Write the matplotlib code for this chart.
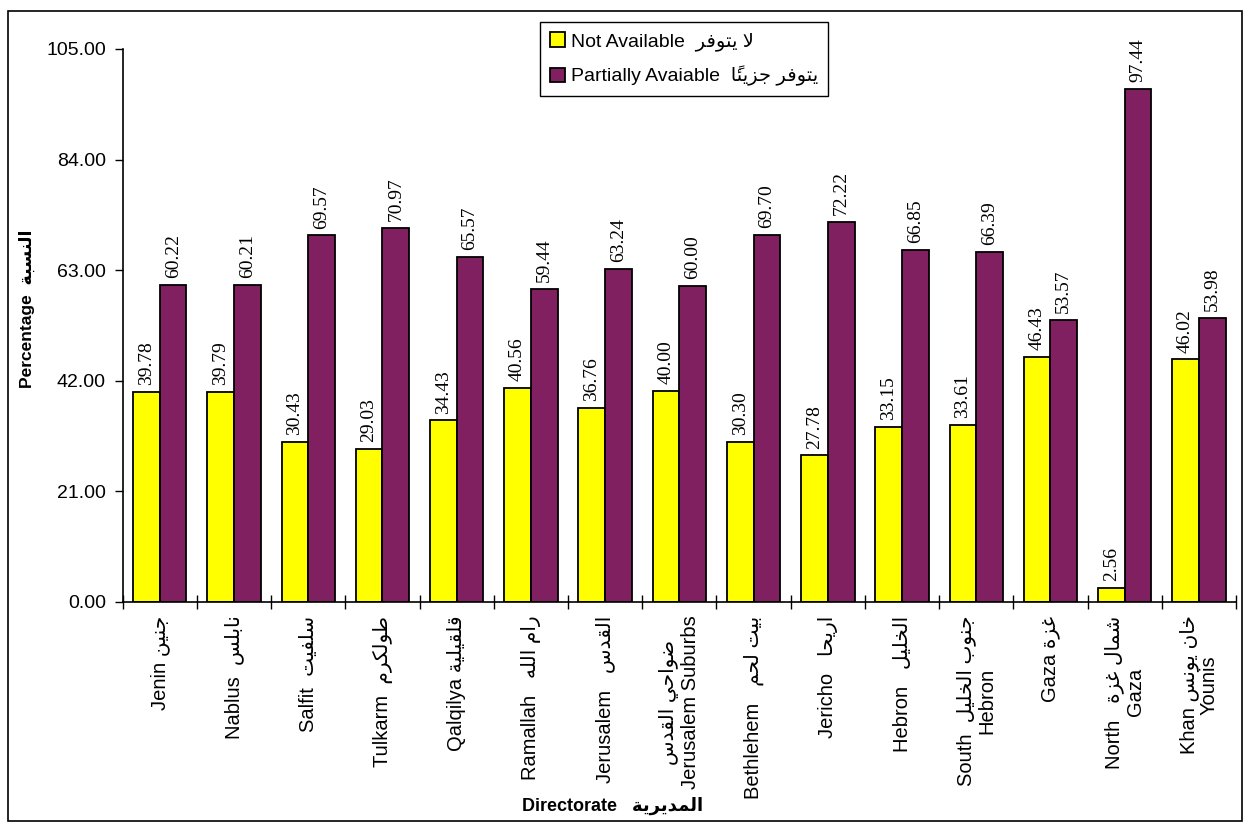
import re
import numpy as np
import matplotlib
matplotlib.use('Agg')
import matplotlib.pyplot as plt
from matplotlib.patches import Rectangle


# matplotlib has no arabic shaping, so build presentation forms by hand
# (isolated, final, initial, medial); 2-tuples only join to the right
FORMS = {
    'ا': ('\uFE8D', '\uFE8E'), 'ب': ('\uFE8F', '\uFE90', '\uFE91', '\uFE92'),
    'ة': ('\uFE93', '\uFE94'), 'ت': ('\uFE95', '\uFE96', '\uFE97', '\uFE98'),
    'ج': ('\uFE9D', '\uFE9E', '\uFE9F', '\uFEA0'), 'ح': ('\uFEA1', '\uFEA2', '\uFEA3', '\uFEA4'),
    'خ': ('\uFEA5', '\uFEA6', '\uFEA7', '\uFEA8'), 'د': ('\uFEA9', '\uFEAA'),
    'ر': ('\uFEAD', '\uFEAE'), 'ز': ('\uFEAF', '\uFEB0'),
    'س': ('\uFEB1', '\uFEB2', '\uFEB3', '\uFEB4'), 'ش': ('\uFEB5', '\uFEB6', '\uFEB7', '\uFEB8'),
    'ض': ('\uFEBD', '\uFEBE', '\uFEBF', '\uFEC0'), 'ط': ('\uFEC1', '\uFEC2', '\uFEC3', '\uFEC4'),
    'غ': ('\uFECD', '\uFECE', '\uFECF', '\uFED0'), 'ف': ('\uFED1', '\uFED2', '\uFED3', '\uFED4'),
    'ق': ('\uFED5', '\uFED6', '\uFED7', '\uFED8'), 'ك': ('\uFED9', '\uFEDA', '\uFEDB', '\uFEDC'),
    'ل': ('\uFEDD', '\uFEDE', '\uFEDF', '\uFEE0'), 'م': ('\uFEE1', '\uFEE2', '\uFEE3', '\uFEE4'),
    'ن': ('\uFEE5', '\uFEE6', '\uFEE7', '\uFEE8'), 'ه': ('\uFEE9', '\uFEEA', '\uFEEB', '\uFEEC'),
    'و': ('\uFEED', '\uFEEE'), 'ي': ('\uFEF1', '\uFEF2', '\uFEF3', '\uFEF4'),
    'ئ': ('\uFE89', '\uFE8A', '\uFE8B', '\uFE8C'), 'LA': ('\uFEFB', '\uFEFC'),
}
MARKS = '\u064B\u064C\u064D\u064E\u064F\u0650\u0651\u0652'


def shape_run(run):
    clusters = []
    for ch in run:
        if ch in MARKS and clusters:
            clusters[-1][1] += ch
        elif ch == 'ا' and clusters and clusters[-1][0] == 'ل':
            clusters[-1][0] = 'LA'
        else:
            clusters.append([ch, ''])
    out = []
    for i, (c, m) in enumerate(clusters):
        if c not in FORMS:
            out.append(c + m)
            continue
        prev = clusters[i - 1][0] if i > 0 else None
        nxt = clusters[i + 1][0] if i + 1 < len(clusters) else None
        pj = prev in FORMS and len(FORMS[prev]) == 4
        nj = len(FORMS[c]) == 4 and nxt in FORMS
        if pj and nj:
            f = FORMS[c][3]
        elif pj:
            f = FORMS[c][1]
        elif nj:
            f = FORMS[c][2]
        else:
            f = FORMS[c][0]
        out.append(f + m)
    return ''.join(out[::-1])


def ar(text):
    return re.sub(r'[\u0600-\u06FF]+(?:\s+[\u0600-\u06FF]+)*',
                  lambda mt: shape_run(mt.group(0)), text)


directorates = ['Jenin جنين', 'Nablus  نابلس', 'Salfit  سلفيت', 'Tulkarm  طولكرم',
                'Qalqilya قلقيلية', 'Ramallah   رام الله', 'Jerusalem   القدس',
                'ضواحي القدس\nJerusalem Suburbs', 'Bethlehem   بيت لحم', 'Jericho   اريحا',
                'Hebron   الخليل', 'South  جنوب الخليل\nHebron', 'Gaza غزة',
                'North   شمال غزة\nGaza', 'Khan خان يونس\nYounis']
not_available = [39.78, 39.79, 30.43, 29.03, 34.43, 40.56, 36.76, 40.00,
                 30.30, 27.78, 33.15, 33.61, 46.43, 2.56, 46.02]
partially = [60.22, 60.21, 69.57, 70.97, 65.57, 59.44, 63.24, 60.00,
             69.70, 72.22, 66.85, 66.39, 53.57, 97.44, 53.98]
yticks = [0, 21, 42, 63, 84, 105]

sans = ['Liberation Sans', 'DejaVu Sans']
serif = ['Liberation Serif', 'DejaVu Serif']
plt.rcParams['font.family'] = sans

fig = plt.figure(figsize=(12.44, 8.22), dpi=100)
ax = fig.add_axes([0.0986, 0.268, 0.8950, 0.6724])

x = np.arange(len(directorates))
w = 0.36
b1 = ax.bar(x - w / 2, not_available, w, color='#FFFF00', edgecolor='black', linewidth=1.3,
            label=ar('Not Available  لا يتوفر'))
b2 = ax.bar(x + w / 2, partially, w, color='#802060', edgecolor='black', linewidth=1.3,
            label=ar('Partially Avaiable  يتوفر جزيئاً'))

for bars in (b1, b2):
    for r in bars:
        h = r.get_height()
        ax.annotate('%.2f' % h, (r.get_x() + r.get_width() / 2, h), xytext=(0, 5),
                    textcoords='offset points', ha='center', va='bottom', rotation=90,
                    fontsize=14, family=serif)

ax.set_xlim(-0.5, len(directorates) - 0.5)
ax.set_ylim(0, 105)
ax.set_yticks(yticks)
ax.set_yticklabels(['%.2f' % v for v in yticks], fontsize=14)
ax.tick_params(axis='y', direction='out', length=6, width=1, pad=6)

ax.set_xticks(x)
ax.set_xticklabels([ar(d) for d in directorates], rotation=90, fontsize=14.5,
                   va='top', ha='center', multialignment='center', linespacing=1.1)
ax.set_xticks(np.arange(-0.5, len(directorates)), minor=True)
ax.tick_params(axis='x', which='major', length=0, pad=10)
ax.tick_params(axis='x', which='minor', direction='inout', length=10, width=1)

ax.spines['top'].set_visible(False)
ax.spines['right'].set_visible(False)
ax.spines['left'].set_linewidth(1.2)
ax.spines['bottom'].set_linewidth(1.2)

ax.set_ylabel(ar('Percentage  النسبة'), fontsize=12.5, fontweight='bold')
ax.yaxis.set_label_coords(-0.079, 0.53)
ax.set_xlabel(ar('Directorate   المديرية'), fontsize=13, fontweight='bold')
ax.xaxis.set_label_coords(0.44, -0.352)

leg = ax.legend(loc='upper left', bbox_to_anchor=(540 / 1244, 1 - 22 / 822),
                bbox_transform=fig.transFigure, fontsize=14, fancybox=False,
                handlelength=0.8, handleheight=0.8, handletextpad=0.3,
                borderpad=0.5, labelspacing=0.8, borderaxespad=0)
leg.get_frame().set_edgecolor('black')
leg.get_frame().set_linewidth(1)
leg.get_frame().set_alpha(1)

# frame round the whole chart
fig.patches.append(Rectangle((8 / 1244, 0.001), 1234 / 1244, 1 - 11.5 / 822 - 0.001,
                             transform=fig.transFigure, fill=False,
                             edgecolor='black', linewidth=1.2))

fig.savefig('out.png', dpi=100)
